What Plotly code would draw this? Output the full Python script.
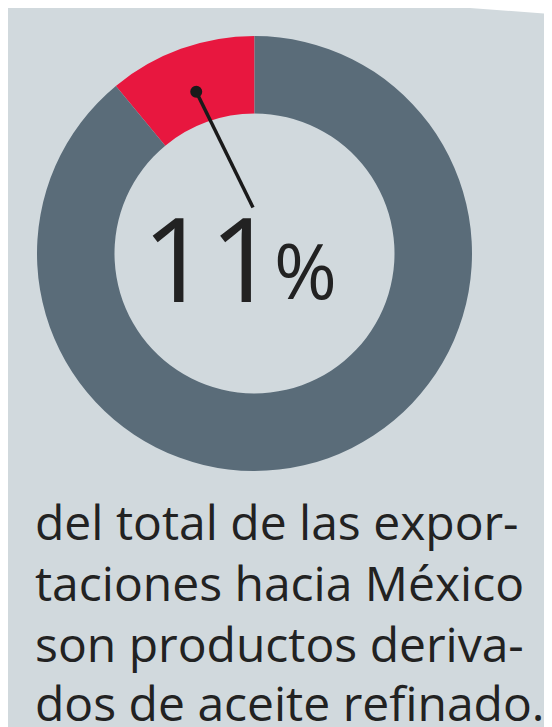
import math
import plotly.graph_objects as go

# ---- data ----
categories = ["Derivados de aceite refinado", "Otros productos"]
shares = [11, 89]
slice_colors = ["#e8173f", "#5a6c79"]
big_number = "11"
big_unit = "%"
caption_lines = [
    "del total de las expor-",
    "taciones hacia México",
    "son productos deriva-",
    "dos de aceite refinado.",
]

# ---- layout constants (reference pixels; page has an 8px body margin) ----
W, H = 552, 727
M = 8
FW, FH = W - M, H - M
BG = "#d1d9dd"
TEXT = "#222222"
FONT = "Open Sans"
pie_left, pie_right, pie_top, pie_bottom = 37, 472, 35, 472
R_out = (pie_right - pie_left) / 2
R_in = 140
cx = (pie_left + pie_right) / 2
cy = (pie_top + pie_bottom) / 2

fig = go.Figure()

fig.add_trace(go.Pie(
    labels=categories,
    values=shares,
    sort=False,
    direction="clockwise",
    rotation=-shares[0] / sum(shares) * 360,
    hole=R_in / R_out,
    marker=dict(colors=slice_colors, line=dict(width=0)),
    textinfo="none",
    hoverinfo="label+percent",
    showlegend=False,
    domain=dict(x=[(pie_left - M) / FW, (pie_right - M) / FW],
                y=[1 - (pie_bottom - M) / FH, 1 - (pie_top - M) / FH]),
))

# helper axes in reference-pixel units
fig.add_trace(go.Scatter(x=[M, W], y=[M, H], mode="markers",
                         marker=dict(opacity=0), hoverinfo="skip", showlegend=False))

# pointer from the middle of the first slice toward the number
theta = math.radians(shares[0] / sum(shares) * 360 / 2)
r_dot = 172
dot_x = cx - r_dot * math.sin(theta)
dot_y = cy - r_dot * math.cos(theta)
end_x, end_y = cx - 1.5, cy - 46
dot_r = 6

shapes = [
    dict(type="path", xref="x", yref="y", path=f"M 470 {M} L {W} {M} L {W} 14 Z",
         fillcolor="#ffffff", line=dict(width=0), layer="below"),
    dict(type="line", xref="x", yref="y", x0=dot_x, y0=dot_y, x1=end_x, y1=end_y,
         line=dict(color="#1a1a1a", width=3.5), layer="above"),
    dict(type="circle", xref="x", yref="y", x0=dot_x - dot_r, x1=dot_x + dot_r,
         y0=dot_y - dot_r, y1=dot_y + dot_r, fillcolor="#1a1a1a",
         line=dict(width=0), layer="above"),
]

annotations = [
    dict(text=big_number, x=279, y=256, xref="x", yref="y", xanchor="right",
         yanchor="middle", showarrow=False,
         font=dict(family=FONT, size=118, color=TEXT)),
    dict(text=big_unit, x=272, y=269, xref="x", yref="y", xanchor="left",
         yanchor="middle", showarrow=False,
         font=dict(family=FONT, size=76, color=TEXT)),
]
baselines = [535, 596, 657, 716]
for line, b in zip(caption_lines, baselines):
    annotations.append(dict(text=line, x=33, y=b - 14, xref="x", yref="y",
                            xanchor="left", yanchor="middle", showarrow=False,
                            font=dict(family=FONT, size=48, color=TEXT)))

fig.update_layout(
    width=FW, height=FH,
    margin=dict(l=0, r=0, t=0, b=0),
    paper_bgcolor=BG,
    plot_bgcolor="rgba(0,0,0,0)",
    xaxis=dict(range=[M, W], visible=False, fixedrange=True),
    yaxis=dict(range=[H, M], visible=False, fixedrange=True),
    shapes=shapes,
    annotations=annotations,
)

fig.write_html("out.html")
